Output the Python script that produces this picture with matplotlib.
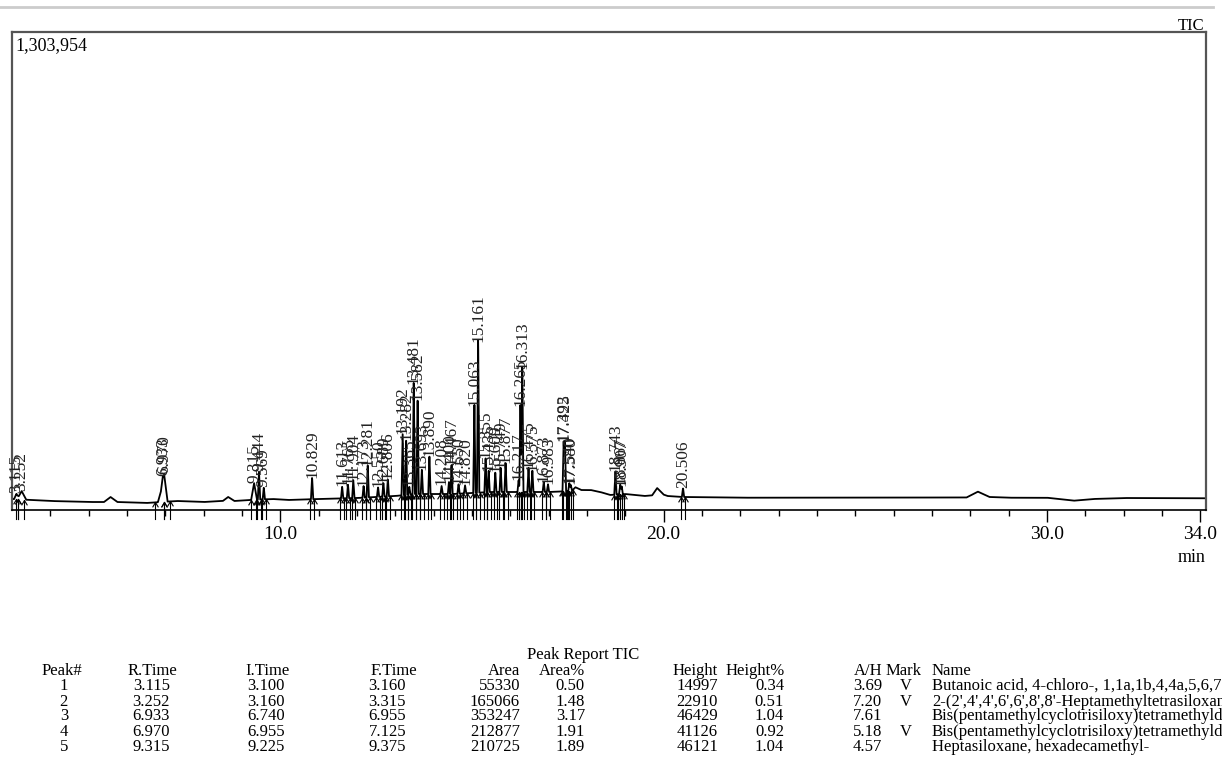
import numpy as np
import matplotlib
matplotlib.use("Agg")
import matplotlib.pyplot as plt

plt.rcParams['font.family'] = ['Liberation Serif', 'DejaVu Serif']

# ---------------- data ----------------
Y_MAX = 1303954

# baseline of the TIC trace (time in min, intensity in counts)
baseline_time = [3.00, 3.50, 4.00, 5.00, 5.40, 5.57, 5.75, 6.50, 7.30, 8.00, 8.50,
                 8.64, 8.80, 9.20, 9.80, 10.20, 11.00, 12.00, 12.50, 13.00, 13.50,
                 14.50, 15.00, 15.50, 17.00, 17.60, 17.70, 17.85, 18.10, 18.35,
                 18.60, 19.00, 19.50, 19.70, 19.83, 20.00, 20.10, 20.50, 22.00,
                 25.00, 27.90, 28.20, 28.50, 29.00, 30.00, 30.70, 31.20, 32.00, 34.15]
baseline_level = [30000, 27300, 24600, 21800, 21800, 35500, 21800, 19100, 24600, 21800, 24600,
                  35500, 24600, 27300, 30000, 27300, 30000, 32700, 35500, 38200, 43600,
                  43600, 46400, 49100, 49100, 51800, 62000, 54500, 54500, 49000,
                  41000, 43600, 38200, 40000, 60000, 42000, 38200, 35500, 33500,
                  34000, 34000, 50000, 35500, 33500, 33500, 25400, 30000, 32700, 32000]

# detected peaks: retention time (min) and height above baseline (counts)
peak_rt = [3.115, 3.252, 6.933, 6.970, 9.315, 9.444, 9.569, 10.829, 11.613, 11.765,
           11.904, 12.173, 12.281, 12.550, 12.689, 12.806, 13.192, 13.282, 13.365,
           13.481, 13.582, 13.693, 13.890, 14.208, 14.400, 14.467, 14.650, 14.820,
           15.063, 15.161, 15.355, 15.435, 15.609, 15.749, 15.877, 16.217, 16.265,
           16.313, 16.475, 16.575, 16.873, 16.983, 17.392, 17.425, 17.540, 17.580,
           18.743, 18.867, 18.907, 20.506]
peak_height = [14997, 22910, 46429, 41126, 46121, 76400, 32700, 60000, 32700, 38200,
               49100, 32700, 90000, 27300, 38200, 49100, 166400, 158200, 21800,
               313700, 272800, 68200, 109100, 21800, 32700, 81800, 27300, 21800,
               248200, 431000, 95500, 60000, 54600, 68200, 81800, 32700, 245500,
               351900, 68200, 60000, 27300, 21800, 136400, 141900, 21800, 16400,
               65500, 27300, 21800, 24600]

# peak report table (first five rows)
tbl_peak = [1, 2, 3, 4, 5]
tbl_rtime = [3.115, 3.252, 6.933, 6.970, 9.315]
tbl_itime = [3.100, 3.160, 6.740, 6.955, 9.225]
tbl_ftime = [3.160, 3.315, 6.955, 7.125, 9.375]
tbl_area = [55330, 165066, 353247, 212877, 210725]
tbl_area_pct = [0.50, 1.48, 3.17, 1.91, 1.89]
tbl_height = [14997, 22910, 46429, 41126, 46121]
tbl_height_pct = [0.34, 0.51, 1.04, 0.92, 1.04]
tbl_ah = [3.69, 7.20, 7.61, 5.18, 4.57]
tbl_mark = ["V", "V", "", "V", ""]
tbl_name = ["Butanoic acid, 4-chloro-, 1,1a,1b,4,4a,5,6,7,8-nonahydro",
            "2-(2',4',4',6',6',8',8'-Heptamethyltetrasiloxan-2'-yloxy)",
            "Bis(pentamethylcyclotrisiloxy)tetramethyldisiloxane",
            "Bis(pentamethylcyclotrisiloxy)tetramethyldisiloxane",
            "Heptasiloxane, hexadecamethyl-"]

# ---------------- build trace ----------------
W, H = 1222, 778
t = np.arange(3.0, 34.15, 0.004)
base = np.interp(t, baseline_time, baseline_level)
trace = base.copy()
for i, (rt, h) in enumerate(zip(peak_rt, peak_height)):
    hw = tbl_ah[i] / 60.0 if i < len(tbl_ah) else 0.03
    trace += h * np.clip(1 - np.abs(t - rt) / hw, 0, None)

fig = plt.figure(figsize=(W / 100, H / 100), dpi=100)

def fx(x):
    return x / W

def fy(y):
    return 1 - y / H

ax = fig.add_axes([fx(12), fy(510), fx(1206) - fx(12), fy(32) - fy(510)])
ax.plot(t, trace, color='black', lw=1.3)
ax.set_xlim(3.0, 34.15)
ax.set_ylim(0, Y_MAX)

for s in ['top', 'left', 'right']:
    ax.spines[s].set_color('#555555')
    ax.spines[s].set_linewidth(1.6)
ax.spines['bottom'].set_color('black')
ax.spines['bottom'].set_linewidth(1.2)
ax.set_yticks([])
ax.set_xticks([10, 20, 30, 34])
ax.set_xticklabels(['10.0', '20.0', '30.0', '34.0'], fontsize=14)
ax.set_xticks([v for v in range(4, 34) if v not in (10, 20, 30)], minor=True)
ax.tick_params(axis='x', which='major', direction='out', length=8.5, width=1.0, pad=3)
ax.tick_params(axis='x', which='minor', direction='out', length=4.3, width=1.0)

# peak labels
for rt, h in zip(peak_rt, peak_height):
    top = np.interp(rt, t, trace)
    ax.text(rt, top + 1500, f"{rt:.3f}", rotation=90, ha='center', va='bottom',
            fontsize=12.5, color='#222222')

# integration markers
caret = [(-0.6, -1.0), (0.0, 0.0), (0.6, -1.0)]
bounds = []
for i, rt in enumerate(peak_rt):
    if i < len(tbl_itime):
        bounds += [tbl_itime[i], tbl_ftime[i]]
    else:
        bounds += [rt - 0.045, rt + 0.05]
for b in bounds:
    bl = np.interp(b, baseline_time, baseline_level)
    ax.plot([b, b], [-24000, bl], color='black', lw=0.8, clip_on=False)
    ax.plot([b], [bl], marker=caret, ms=7, mfc='none', mec='black', mew=0.8,
            clip_on=False)

# header texts
fig.add_artist(plt.Line2D([0, fx(1213)], [fy(7), fy(7)], color='#cccccc', lw=2))
fig.text(fx(1204), fy(26), "TIC", ha='right', va='center', fontsize=12)
fig.text(fx(15), fy(46), "1,303,954", ha='left', va='center', fontsize=13)
fig.text(fx(1206), fy(557), "min", ha='right', va='center', fontsize=13)

# peak report table
fs = 12
fig.text(fx(583), fy(655), "Peak Report TIC", ha='center', va='center', fontsize=fs)
hdr_y = 671
row_y = [686, 701.5, 716.5, 732, 747]
headers = [("Peak#", 82, 'right'), ("R.Time", 177, 'right'), ("I.Time", 290, 'right'),
           ("F.Time", 417, 'right'), ("Area", 520, 'right'), ("Area%", 585, 'right'),
           ("Height", 718, 'right'), ("Height%", 785, 'right'), ("A/H", 882, 'right'),
           ("Mark", 922, 'right'), ("Name", 932, 'left')]
for txt, x, ha in headers:
    fig.text(fx(x), fy(hdr_y), txt, ha=ha, va='center', fontsize=fs)

for r in range(len(tbl_peak)):
    y = fy(row_y[r])
    cells = [(str(tbl_peak[r]), 68, 'right'),
             (f"{tbl_rtime[r]:.3f}", 170, 'right'),
             (f"{tbl_itime[r]:.3f}", 285, 'right'),
             (f"{tbl_ftime[r]:.3f}", 406, 'right'),
             (str(tbl_area[r]), 520, 'right'),
             (f"{tbl_area_pct[r]:.2f}", 585, 'right'),
             (str(tbl_height[r]), 718, 'right'),
             (f"{tbl_height_pct[r]:.2f}", 784, 'right'),
             (f"{tbl_ah[r]:.2f}", 882, 'right'),
             (tbl_mark[r], 906, 'center'),
             (tbl_name[r], 932, 'left')]
    for txt, x, ha in cells:
        fig.text(fx(x), y, txt, ha=ha, va='center', fontsize=fs)

fig.savefig("out.png", dpi=100)
